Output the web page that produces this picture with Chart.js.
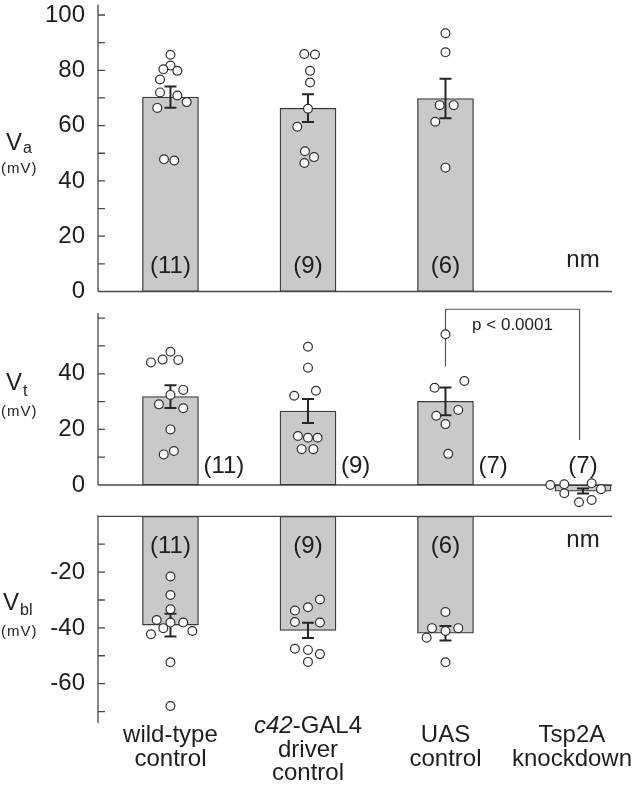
<!DOCTYPE html>
<html>
<head>
<meta charset="utf-8">
<script src="https://cdn.jsdelivr.net/npm/chart.js@4.4.1/dist/chart.umd.min.js"></script>
<style>
    body { margin: 0; background: #fff; overflow: hidden; }
    canvas { position: absolute; left: 0; top: 0; }
</style>
</head>
<body>
<canvas id="va-chart" width="635" height="793"></canvas>
<canvas id="vt-chart" width="635" height="793"></canvas>
<canvas id="vbl-chart" width="635" height="793"></canvas>
<script>
// categories
const groupLabels = [['wild-type', 'control'], ['c42-GAL4', 'driver', 'control'], ['UAS', 'control'], ['Tsp2A', 'knockdown']];
const italicPrefix = 'c42';

// Va (mV)
const vaMeans = [70.3, 66.3, 69.8, null];
const vaSem = [3.8, 5.0, 7.1, null];
const vaCounts = ['(11)', '(9)', '(6)', 'nm'];
const vaPoints = [
    [85.6, 81.7, 80.4, 79.8, 76.7, 72.0, 70.9, 68.5, 66.4, 47.8, 47.4],
    [85.9, 85.7, 79.8, 75.6, 66.1, 59.6, 50.7, 48.6, 46.5],
    [93.4, 86.5, 67.4, 67.4, 61.4, 44.8],
    []
];
const vaOffsets = [
    [0, 0, -0.052, 0.05, -0.076, -0.076, 0.05, 0.118, -0.096, -0.047, 0.028],
    [-0.027, 0.051, 0.015, 0.015, 0, -0.078, -0.022, 0.044, -0.026],
    [0, 0, -0.042, 0.06, -0.074, 0],
    []
];
const vaTickLabels = [0, 20, 40, 60, 80, 100];

// Vt (mV)
const vtMeans = [31.8, 26.6, 30.1, -2.2];
const vtSem = [4.1, 4.3, 5.0, 0.9];
const vtCounts = ['(11)', '(9)', '(7)', '(7)'];
const vtPoints = [
    [44.1, 45.1, 47.9, 45.0, 34.2, 32.4, 29.0, 27.6, 20.0, 11.0, 12.2],
    [49.7, 42.2, 32.1, 33.9, 17.6, 17.0, 17.0, 12.9, 12.9],
    [54.2, 35.0, 37.4, 24.9, 27.0, 21.9, 11.2],
    [0, 0.25, -3.0, 0.6, -1.5, -6.2, -5.4]
];
const vtOffsets = [
    [-0.142, -0.057, 0, 0.057, 0.093, 0, -0.084, 0.093, 0, -0.049, 0.025],
    [0, 0, -0.1, 0.058, -0.073, 0, 0.07, -0.046, 0.039],
    [0, -0.079, 0.137, -0.067, 0.093, 0, 0.02],
    [-0.238, -0.136, -0.136, 0.063, 0.131, -0.029, 0.063]
];
const vtTickLabels = [0, 20, 40];

// Vbl (mV)
const vblMeans = [-39.0, -40.9, -41.9, null];
const vblSem = [4.1, 2.7, 2.6, null];
const vblCounts = ['(11)', '(9)', '(6)', 'nm'];
const vblPoints = [
    [-21.6, -28.2, -33.3, -37.2, -38.1, -38.1, -40.1, -42.3, -41.1, -52.3, -68.0],
    [-29.8, -32.6, -33.8, -37.9, -38.1, -47.5, -47.9, -49.4, -52.2],
    [-34.3, -40.1, -41.1, -40.1, -43.5, -52.3],
    []
];
const vblOffsets = [
    [0, 0, 0, -0.1, 0, 0.093, -0.052, -0.142, 0.159, 0, 0],
    [0.087, 0, -0.095, -0.095, 0.087, -0.095, 0, 0.087, 0],
    [0, -0.098, 0, 0.093, -0.137, 0],
    []
];
const vblTickLabels = [-20, -40, -60];

const FONT = "'Liberation Sans', Arial, Helvetica, sans-serif";
const TEXT = '#1e1e1e';
const AXIS = '#4a4a4a';

function makePanelPlugin(cfg) {
    return {
        id: 'panel_' + cfg.name,
        beforeDatasetsDraw(chart) {
            const {ctx, chartArea} = chart;
            const y = chart.scales.y;
            const x = chart.scales.x;
            const zero = y.getPixelForValue(0);
            ctx.save();
            ctx.strokeStyle = AXIS;
            ctx.lineWidth = 1.3;
            ctx.beginPath();
            // axis line + zero line
            ctx.moveTo(chartArea.left, y.getPixelForValue(cfg.axisTo) - 1);
            ctx.lineTo(chartArea.left, y.getPixelForValue(cfg.axisFrom));
            ctx.moveTo(chartArea.left, zero);
            ctx.lineTo(chartArea.right, zero);
            // inward tick marks
            y.ticks.forEach(t => {
                if (t.value < cfg.axisFrom || t.value > cfg.axisTo || t.value % 10 !== 0) return;
                const py = y.getPixelForValue(t.value);
                ctx.moveTo(chartArea.left, py);
                ctx.lineTo(chartArea.left + 7, py);
            });
            ctx.stroke();

            if (cfg.bracket) {
                const b = cfg.bracket;
                ctx.lineWidth = 1.2;
                ctx.strokeStyle = '#555';
                ctx.beginPath();
                ctx.moveTo(x.getPixelForValue(b.from), y.getPixelForValue(b.leftY));
                ctx.lineTo(x.getPixelForValue(b.from), y.getPixelForValue(b.topY));
                ctx.lineTo(x.getPixelForValue(b.to), y.getPixelForValue(b.topY));
                ctx.lineTo(x.getPixelForValue(b.to), y.getPixelForValue(b.rightY));
                ctx.stroke();
                ctx.fillStyle = TEXT;
                ctx.font = '17px ' + FONT;
                ctx.textAlign = 'center';
                ctx.textBaseline = 'middle';
                ctx.fillText(b.text, x.getPixelForValue((b.from + b.to) / 2), y.getPixelForValue(b.textY));
            }
            ctx.restore();
        },
        afterDatasetDraw(chart, args) {
            if (args.meta.type !== 'bar') return;
            const {ctx} = chart;
            const x = chart.scales.x;
            const y = chart.scales.y;
            ctx.save();
            ctx.strokeStyle = '#262626';
            ctx.lineWidth = 2;
            ctx.beginPath();
            cfg.means.forEach((m, i) => {
                if (m === null) return;
                const px = x.getPixelForValue(i);
                const top = y.getPixelForValue(m + cfg.sem[i]);
                const bot = y.getPixelForValue(m - cfg.sem[i]);
                ctx.moveTo(px, top); ctx.lineTo(px, bot);
                ctx.moveTo(px - 6, top); ctx.lineTo(px + 6, top);
                ctx.moveTo(px - 6, bot); ctx.lineTo(px + 6, bot);
            });
            ctx.stroke();
            ctx.restore();
        },
        afterDatasetsDraw(chart) {
            const {ctx} = chart;
            const x = chart.scales.x;
            const y = chart.scales.y;
            ctx.save();
            ctx.fillStyle = TEXT;
            ctx.font = '24px ' + FONT;
            ctx.textBaseline = 'middle';
            cfg.counts.forEach((c, i) => {
                let px = x.getPixelForValue(i);
                let py = y.getPixelForValue(cfg.countY);
                if (c === 'nm') py -= 6;
                if (cfg.countBeside && i < 3) {
                    ctx.textAlign = 'left';
                    px += 33;
                } else {
                    ctx.textAlign = 'center';
                }
                ctx.fillText(c, px, py);
            });
            ctx.restore();
        },
        afterDraw(chart) {
            const {ctx} = chart;
            const t = cfg.title;
            ctx.save();
            ctx.fillStyle = TEXT;
            ctx.textAlign = 'left';
            ctx.textBaseline = 'alphabetic';
            ctx.font = '24px ' + FONT;
            ctx.fillText('V', t.x, t.vBase);
            const vw = ctx.measureText('V').width;
            ctx.font = '16px ' + FONT;
            ctx.fillText(t.sub, t.x + vw + 1, t.subBase);
            ctx.font = '15px ' + FONT;
            ctx.letterSpacing = '1px';
            ctx.fillText('(mV)', 1, t.unitBase);
            ctx.letterSpacing = '0px';

            if (cfg.categoryLabels) {
                const x = chart.scales.x;
                ctx.font = '24px ' + FONT;
                groupLabels.forEach((lines, i) => {
                    // keep the whole label block inside the canvas
                    const widest = Math.max(...lines.map(l => ctx.measureText(l).width));
                    const cx = Math.min(x.getPixelForValue(i), chart.width - 3 - widest / 2);
                    let base = 742 - (lines.length - 2) * 9;
                    lines.forEach(line => {
                        ctx.textAlign = 'left';
                        if (line.startsWith(italicPrefix)) {
                            ctx.font = 'italic 24px ' + FONT;
                            const w1 = ctx.measureText(italicPrefix).width;
                            ctx.font = '24px ' + FONT;
                            const rest = line.slice(italicPrefix.length);
                            const w2 = ctx.measureText(rest).width;
                            const left = cx - (w1 + w2) / 2;
                            ctx.font = 'italic 24px ' + FONT;
                            ctx.fillText(italicPrefix, left, base);
                            ctx.font = '24px ' + FONT;
                            ctx.fillText(rest, left + w1, base);
                        } else {
                            const w = ctx.measureText(line).width;
                            ctx.fillText(line, cx - w / 2, base);
                        }
                        base += 23.5;
                    });
                });
            }
            ctx.restore();
        }
    };
}

function buildPanel(canvasId, cfg) {
    const ctx = document.getElementById(canvasId).getContext('2d');
    const barData = [];
    cfg.means.forEach((m, i) => { if (m !== null) barData.push({x: i, y: m}); });
    const pointData = [];
    cfg.points.forEach((vals, i) => {
        vals.forEach((v, k) => pointData.push({x: i + cfg.offsets[i][k], y: v}));
    });
    return new Chart(ctx, {
        type: 'bar',
        data: {
            datasets: [{
                type: 'bar',
                data: barData,
                backgroundColor: '#c8c9cb',
                borderColor: '#3a3a3a',
                borderWidth: 1.3,
                borderSkipped: false,
                barThickness: 56,
                order: 2
            }, {
                type: 'scatter',
                data: pointData,
                pointRadius: 4.4,
                pointBorderWidth: 1.2,
                pointBackgroundColor: '#ffffff',
                pointBorderColor: '#2e2e2e',
                clip: false,
                order: 1
            }]
        },
        options: {
            responsive: false,
            animation: false,
            devicePixelRatio: 1,
            events: [],
            layout: {
                padding: {left: 33, right: 23, top: cfg.padTop, bottom: cfg.padBottom}
            },
            plugins: {
                legend: {display: false},
                tooltip: {enabled: false}
            },
            scales: {
                x: {
                    type: 'linear',
                    display: false,
                    offset: false,
                    min: -0.527,
                    max: 3.211
                },
                y: {
                    min: cfg.min,
                    max: cfg.max,
                    grid: {display: false, drawTicks: false},
                    border: {display: false},
                    ticks: {
                        stepSize: 10,
                        autoSkip: false,
                        includeBounds: false,
                        padding: 13,
                        color: TEXT,
                        font: {family: FONT, size: 24},
                        callback: v => cfg.tickLabels.includes(v) ? String(v) : ''
                    },
                    afterFit: s => {
                        s.width = 65;
                        s.paddingTop = 0;
                        s.paddingBottom = 0;
                    }
                }
            }
        },
        plugins: [makePanelPlugin(cfg)]
    });
}

buildPanel('va-chart', {
    name: 'va', means: vaMeans, sem: vaSem, counts: vaCounts, points: vaPoints, offsets: vaOffsets,
    tickLabels: vaTickLabels, min: 0, max: 103.4, padTop: 2, padBottom: 501.5,
    axisFrom: 0, axisTo: 103.4, countY: 9, countBeside: false,
    title: {x: 6, sub: 'a', vBase: 150, subBase: 153, unitBase: 173}
});

buildPanel('vt-chart', {
    name: 'vt', means: vtMeans, sem: vtSem, counts: vtCounts, points: vtPoints, offsets: vtOffsets,
    tickLabels: vtTickLabels, min: -10, max: 61.5, padTop: 314, padBottom: 280.2,
    axisFrom: 0, axisTo: 61.5, countY: 6.6, countBeside: true,
    title: {x: 6, sub: 't', vBase: 390, subBase: 396, unitBase: 416},
    bracket: {from: 2, to: 2.975, leftY: 42.6, topY: 63.2, rightY: 16.2, text: 'p < 0.0001', textY: 57.3}
});

buildPanel('vbl-chart', {
    name: 'vbl', means: vblMeans, sem: vblSem, counts: vblCounts, points: vblPoints, offsets: vblOffsets,
    tickLabels: vblTickLabels, min: -74.1, max: 0, padTop: 516.3, padBottom: 70,
    axisFrom: -74.1, axisTo: 0, countY: -10.9, countBeside: false,
    title: {x: 3, sub: 'bl', vBase: 610, subBase: 615, unitBase: 636},
    categoryLabels: true
});
</script>
</body>
</html>
